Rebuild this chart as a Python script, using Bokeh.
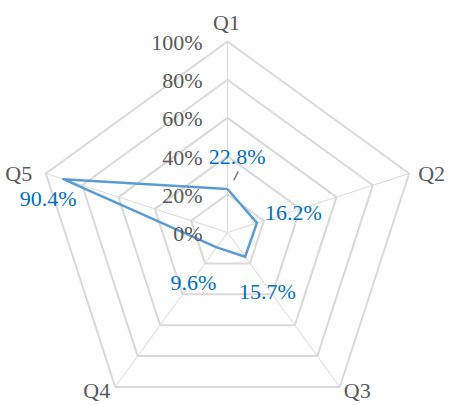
import numpy as np
from bokeh.plotting import figure
from bokeh.models import Range1d, ColumnDataSource
from bokeh.core.properties import value
from bokeh.embed import file_html
from bokeh.resources import INLINE

categories = ["Q1", "Q2", "Q3", "Q4", "Q5"]
values = [0.228, 0.162, 0.157, 0.096, 0.904]
value_labels = ["22.8%", "16.2%", "15.7%", "9.6%", "90.4%"]
ring_levels = [0.2, 0.4, 0.6, 0.8, 1.0]
tick_levels = [0.0, 0.2, 0.4, 0.6, 0.8, 1.0]
tick_labels = ["0%", "20%", "40%", "60%", "80%", "100%"]

W, H = 449, 405
CX, CY, R = 227, 232, 191  # centre pixel and radius in px
FONT = value("'Liberation Serif', 'Times New Roman', serif")

p = figure(width=W, height=H, output_backend="svg", toolbar_location=None,
           x_range=Range1d(-CX / R, (W - CX) / R),
           y_range=Range1d(-(H - CY) / R, CY / R),
           min_border=0, min_border_left=0, min_border_right=0,
           min_border_top=0, min_border_bottom=0)
p.axis.visible = False
p.grid.visible = False
p.outline_line_color = None
p.background_fill_color = "white"
p.border_fill_color = "white"

n = len(categories)
ang = np.pi / 2 - 2 * np.pi * np.arange(n) / n
ux, uy = np.cos(ang), np.sin(ang)

# rings
xs = [list(np.append(ux * r, ux[0] * r)) for r in ring_levels]
ys = [list(np.append(uy * r, uy[0] * r)) for r in ring_levels]
p.multi_line(xs, ys, line_color="#d9d9d9", line_width=2)
# spokes
p.segment(x0=[0] * n, y0=[0] * n, x1=list(ux), y1=list(uy),
          line_color="#d9d9d9", line_width=1)

# data polygon
vals = np.array(values)
px, py = ux * vals, uy * vals
p.line(list(np.append(px, px[0])), list(np.append(py, py[0])),
       line_color="#5B9BD5", line_width=2.5, line_join="round")

# leader line for Q1 label (pixel offsets from the point)
p.segment(x0=[px[0] + 6.3 / R], y0=[py[0] + 8.5 / R],
          x1=[px[0] + 10.7 / R], y1=[py[0] + 17.5 / R],
          line_color="#7f7f7f", line_width=1.5)

# data labels
dxs = [9.7, 36.6, 22.4, -23.3, -15]
dys = [-32.8, -10.4, 34.4, 34.9, 19.7]
src = ColumnDataSource(dict(x=list(px), y=list(py), t=value_labels, dx=dxs, dy=dys))
p.text(x="x", y="y", text="t", x_offset="dx", y_offset="dy", source=src,
       text_font=FONT, text_font_size="22px", text_color="#0070C0",
       text_align="center", text_baseline="middle")

# tick labels along Q1 axis
p.text(x=[0] * len(tick_levels), y=tick_levels, text=tick_labels,
       x_offset=-25, y_offset=1, text_font=FONT, text_font_size="22px",
       text_color="#595959", text_align="right", text_baseline="middle")

# category labels
cat_dx = [-1, 9, 4, -5, -13.6]
cat_dy = [-19, 0, 3, 3, 0]
cat_align = ["center", "left", "left", "right", "right"]
csrc = ColumnDataSource(dict(x=list(ux), y=list(uy), t=categories,
                             dx=cat_dx, dy=cat_dy, a=cat_align))
p.text(x="x", y="y", text="t", x_offset="dx", y_offset="dy", text_align="a",
       source=csrc, text_font=FONT, text_font_size="22px",
       text_color="#595959", text_baseline="middle")

open("out.html", "w").write(file_html(p, INLINE))
